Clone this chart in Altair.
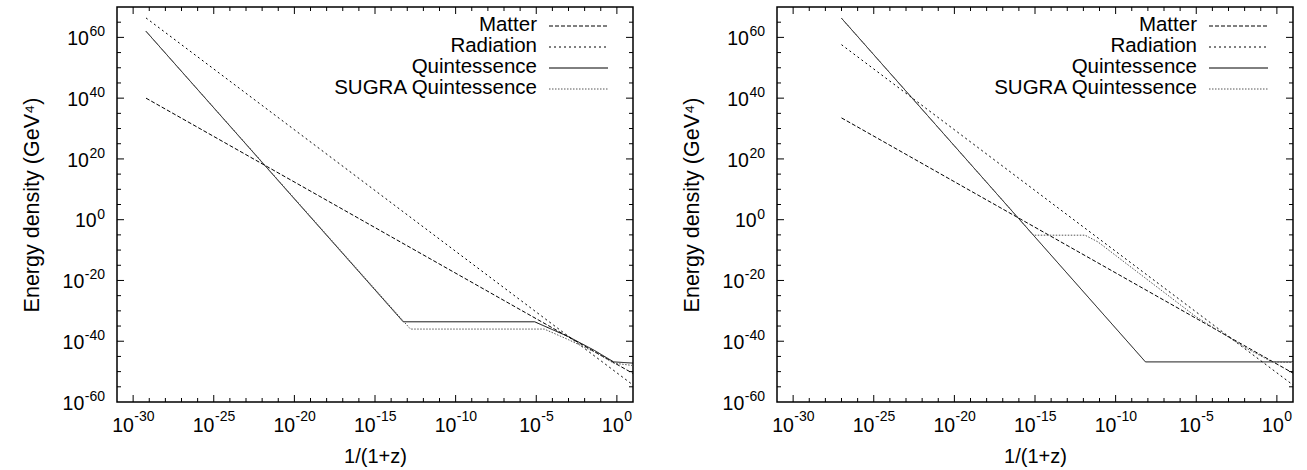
import altair as alt
import pandas as pd

series_names = ["Matter", "Radiation", "Quintessence", "SUGRA Quintessence"]

# values as log10(1/(1+z)) and log10(energy density / GeV^4)
# ---- left panel ----
L_matter_x = [-29.2, 1.0]
L_matter_y = [40.0, -50.6]
L_rad_x = [-29.2, 1.0]
L_rad_y = [66.4, -54.4]
L_quint_x = [-29.2, -13.25, -5.1, -3.0, -1.4, -0.2, 1.0]
L_quint_y = [62.0, -33.6, -33.6, -38.5, -43.0, -46.8, -47.2]
L_sugra_x = [-29.2, -12.8, -4.5, -3.0, -1.4, -0.2, 1.0]
L_sugra_y = [62.0, -36.0, -36.0, -39.5, -43.5, -47.2, -48.0]

# ---- right panel ----
R_matter_x = [-27.0, 1.0]
R_matter_y = [33.5, -50.5]
R_rad_x = [-27.0, 1.0]
R_rad_y = [57.6, -54.4]
R_quint_x = [-27.0, -8.15, 1.0]
R_quint_y = [66.3, -46.8, -46.8]
R_sugra_x = [-27.0, -15.1, -11.9, -11.1, -5.0, -2.0, -0.3, 1.0]
R_sugra_y = [66.3, -5.1, -5.1, -7.3, -32.0, -42.0, -46.8, -47.0]

# axis ticks / labels (exponents of ten)
x_label_values = [-30, -25, -20, -15, -10, -5, 0]
x_minor_ticks = list(range(-30, 1))
y_label_values = [-60, -40, -20, 0, 20, 40, 60]
y_minor_ticks = list(range(-55, 70, 5))

x_title = "1/(1+z)"
y_title = "Energy density (GeV\u2074)"

W, H = 516, 395
FONT = "Liberation Sans"
FS = 20          # x title / key
YFS = 21.5       # y title
LFS = 19.5       # "10" of tick labels
EFS = 14         # exponent of tick labels
TEN_W = 1.112 * LFS


def exp_width(s):
    return sum(0.333 * EFS if c == "-" else 0.556 * EFS for c in s)


dash_range = [[4, 2], [2, 3], [1, 0], [1.5, 1.5]]
color_range = ["#000000", "#000000", "#000000", "#555555"]

xscale = alt.Scale(domain=[-31, 1], nice=False, zero=False)
yscale = alt.Scale(domain=[-60, 70], nice=False, zero=False)

xaxis = alt.Axis(
    labels=False, ticks=False, domain=False, grid=False, title=x_title,
    titleFont=FONT, titleFontSize=FS, titleFontWeight="normal",
    titleColor="black", titlePadding=44)
yaxis = alt.Axis(
    labels=False, ticks=False, domain=False, grid=False, title=y_title,
    titleFont=FONT, titleFontSize=YFS, titleFontWeight="normal",
    titleColor="black", titlePadding=74)

XT = alt.X("t:Q", scale=xscale, axis=xaxis, title=x_title)
YT = alt.Y("t:Q", scale=yscale, axis=yaxis, title=y_title)


def build(pairs):
    rows = []
    for name, (xs, ys) in zip(series_names, pairs):
        for i, (a, b) in enumerate(zip(xs, ys)):
            rows.append({"series": name, "i": i, "lx": a, "ly": b})
    return pd.DataFrame(rows)


left_df = build([(L_matter_x, L_matter_y), (L_rad_x, L_rad_y),
                 (L_quint_x, L_quint_y), (L_sugra_x, L_sugra_y)])
right_df = build([(R_matter_x, R_matter_y), (R_rad_x, R_rad_y),
                  (R_quint_x, R_quint_y), (R_sugra_x, R_sugra_y)])


def tick_label_layers():
    layers = []
    # x labels: "10" + raised exponent, centred as a whole under the tick
    xl = pd.DataFrame({"t": x_label_values, "e": [str(v) for v in x_label_values]})
    xl["w"] = xl["e"].map(exp_width).round(2)
    for w, g in xl.groupby("w"):
        off = (TEN_W - w) / 2
        layers.append(alt.Chart(g).mark_text(
            align="right", baseline="middle", font=FONT, fontSize=LFS, color="black", dx=off
        ).encode(x=XT, y=alt.value(H + 24), text=alt.value("10")))
        layers.append(alt.Chart(g).mark_text(
            align="left", baseline="middle", font=FONT, fontSize=EFS, color="black", dx=off + 0.5
        ).encode(x=XT, y=alt.value(H + 15), text="e:N"))
    # y labels: right aligned left of the frame
    yl = pd.DataFrame({"t": y_label_values, "e": [str(v) for v in y_label_values]})
    yl["w"] = yl["e"].map(exp_width).round(2)
    for w, g in yl.groupby("w"):
        layers.append(alt.Chart(g).mark_text(
            align="right", baseline="middle", font=FONT, fontSize=LFS, color="black", dy=1.7
        ).encode(y=YT, x=alt.value(-12.5 - w), text=alt.value("10")))
        layers.append(alt.Chart(g).mark_text(
            align="right", baseline="middle", font=FONT, fontSize=EFS, color="black", dy=-5
        ).encode(y=YT, x=alt.value(-12), text="e:N"))
    return layers


def panel(df):
    lines = alt.Chart(df).mark_line(strokeWidth=1, clip=True).encode(
        x=alt.X("lx:Q", scale=xscale, axis=xaxis, title=x_title),
        y=alt.Y("ly:Q", scale=yscale, axis=yaxis, title=y_title),
        color=alt.Color("series:N", scale=alt.Scale(domain=series_names, range=color_range), legend=None),
        strokeDash=alt.StrokeDash("series:N", scale=alt.Scale(domain=series_names, range=dash_range), legend=None),
        detail="series:N",
        order="i:Q",
    )

    layers = [lines]
    xt = pd.DataFrame({"t": x_minor_ticks})
    xt["L"] = [7 if t % 5 == 0 else 4 for t in x_minor_ticks]
    yt = pd.DataFrame({"t": y_minor_ticks})
    yt["L"] = [7 if t % 20 == 0 else 4 for t in y_minor_ticks]
    for L in (4, 7):
        sx = xt[xt.L == L]
        sy = yt[yt.L == L]
        base_x = alt.Chart(sx).mark_rule(color="black", strokeWidth=1)
        base_y = alt.Chart(sy).mark_rule(color="black", strokeWidth=1)
        layers.append(base_x.encode(x=XT, y=alt.value(H), y2=alt.value(H - L)))
        layers.append(base_x.encode(x=XT, y=alt.value(0), y2=alt.value(L)))
        layers.append(base_y.encode(y=YT, x=alt.value(0), x2=alt.value(L)))
        layers.append(base_y.encode(y=YT, x=alt.value(W), x2=alt.value(W - L)))

    layers += tick_label_layers()

    # key in the top right corner, gnuplot style (label then sample)
    row_y = [18, 39, 60, 81]
    for k, name in enumerate(series_names):
        kd = pd.DataFrame({"series": [name]})
        layers.append(alt.Chart(kd).mark_text(align="right", baseline="middle",
                                              font=FONT, fontSize=20.5, color="black").encode(
            text="series:N", x=alt.value(420), y=alt.value(row_y[k])))
        layers.append(alt.Chart(kd).mark_rule(strokeWidth=1).encode(
            x=alt.value(432), x2=alt.value(491), y=alt.value(row_y[k] + 1),
            color=alt.Color("series:N", scale=alt.Scale(domain=series_names, range=color_range), legend=None),
            strokeDash=alt.StrokeDash("series:N", scale=alt.Scale(domain=series_names, range=dash_range), legend=None)))
    return alt.layer(*layers).properties(width=W, height=H)


chart = alt.hconcat(panel(left_df), panel(right_df), spacing=45).properties(
    padding={"left": 20, "top": 5, "right": 5, "bottom": 5},
    background="white",
).configure_view(stroke="black", strokeWidth=1.5).configure_concat(spacing=45)

chart.save("out.html", embed_options={"renderer": "svg", "actions": False})
